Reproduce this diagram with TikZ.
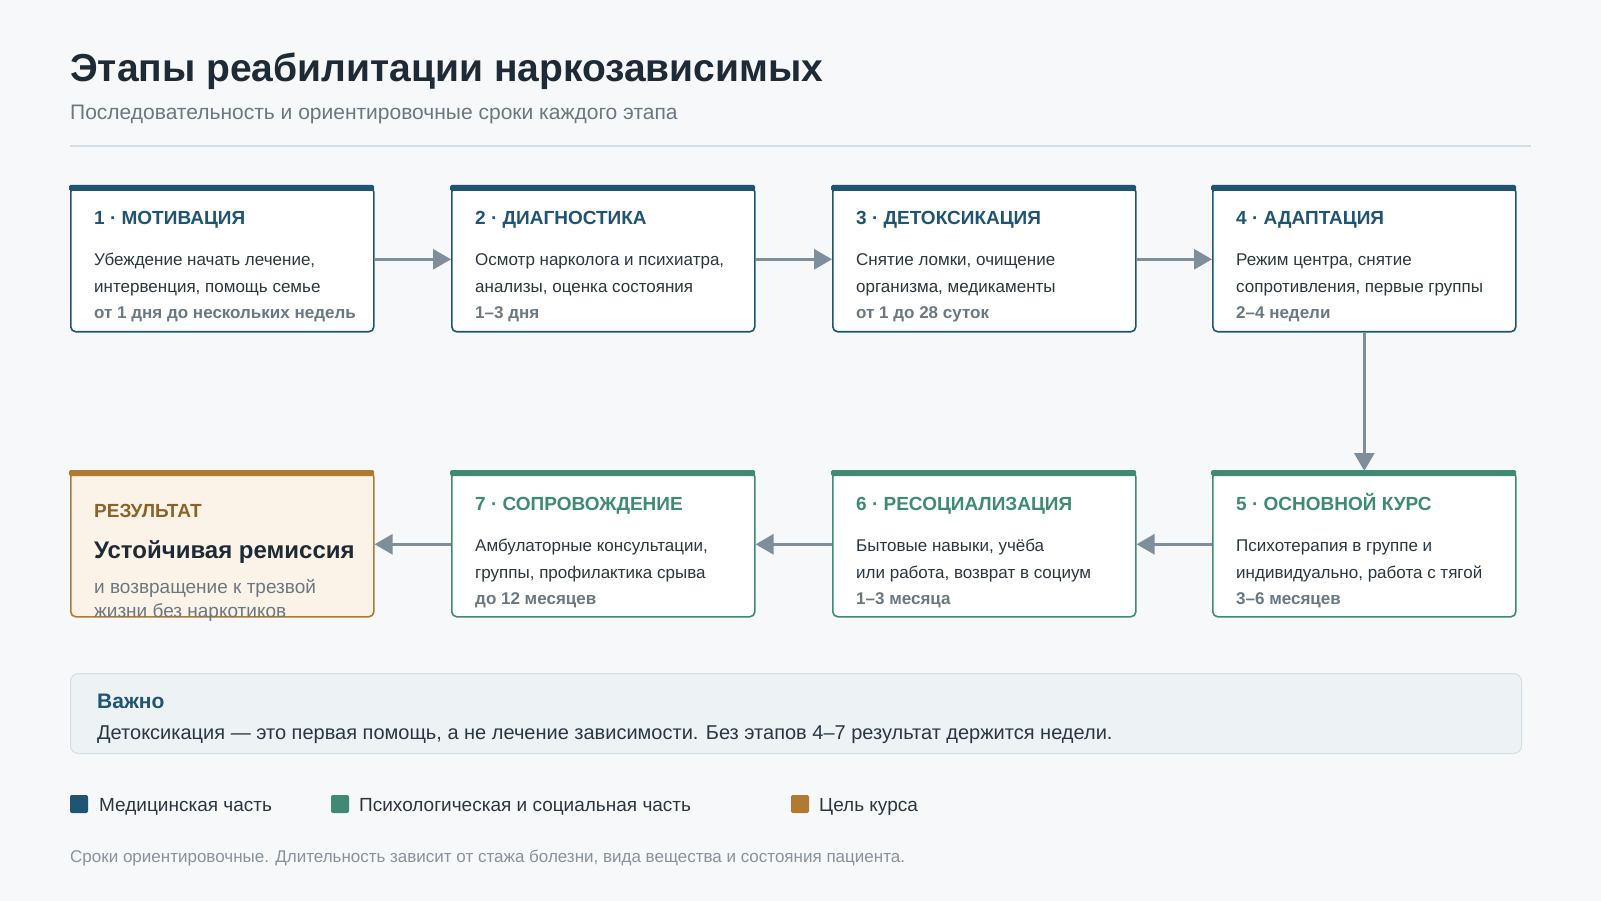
\documentclass[tikz,border=0pt]{standalone}
\usepackage{fontspec}
\setmainfont{Liberation Sans}
\usetikzlibrary{arrows.meta}
\definecolor{bg}{HTML}{F6F8FA}
\definecolor{navy}{HTML}{1F5472}
\definecolor{grn}{HTML}{3F8A74}
\definecolor{gold}{HTML}{B07A32}
\definecolor{cream}{HTML}{FBF3E7}
\definecolor{ink}{HTML}{1E2A35}
\definecolor{txt}{HTML}{2B3640}
\definecolor{gry}{HTML}{6B7781}
\definecolor{arr}{HTML}{7E8F9B}
\definecolor{note}{HTML}{EDF2F5}
\definecolor{noteb}{HTML}{D3DEE5}
\begin{document}
\begin{tikzpicture}[x=1pt,y=-1pt,
  box/.style={draw=#1,line width=1.6pt,rounded corners=5pt,fill=white,minimum width=303pt,minimum height=145pt,inner sep=0pt,anchor=north west},
  bar/.style={fill=#1,rounded corners=1.5pt},
  hd/.style={anchor=base west,inner sep=0pt,font=\fontsize{19}{19}\selectfont\bfseries,text=#1},
  bd/.style={anchor=base west,inner sep=0pt,font=\fontsize{17}{17}\selectfont,text=txt},
  du/.style={anchor=base west,inner sep=0pt,font=\fontsize{17}{17}\selectfont\bfseries,text=gry},
  ar/.style={draw=arr,line width=3pt,-{Triangle[length=18pt,width=20pt]}}]
\useasboundingbox[fill=bg] (0,0) rectangle (1601,901);
\node[anchor=base west,inner sep=0pt,font=\fontsize{39}{39}\selectfont\bfseries,text=ink] (t) at (70,82) {Этапы реабилитации наркозависимых};
\node[anchor=base west,inner sep=0pt,font=\fontsize{21}{21}\selectfont,text=gry] (st) at (70,120) {Последовательность и ориентировочные сроки каждого этапа};
\draw[draw=noteb,line width=1.5pt] (70,146) -- (1531,146);
% generic box command
\newcommand\stage[9]{% name x y color head l1 l2 dur fill
  \node[box=#4,fill=#9] (#1) at (#2,#3) {};
  \fill[#4,rounded corners=1.5pt] (#2-1,#3-1) rectangle (#2+304,#3+5);
  \node[hd=#4] (#1h) at (#2+24,#3+39) {#5};
  \node[bd] (#1a) at (#2+24,#3+80) {#6};
  \node[bd] (#1b) at (#2+24,#3+107) {#7};
  \node[du] (#1c) at (#2+24,#3+133) {#8};}
\stage{b1}{70}{186}{navy}{1 · МОТИВАЦИЯ}{Убеждение начать лечение,}{интервенция, помощь семье}{от 1 дня до нескольких недель}{white}
\stage{b2}{451}{186}{navy}{2 · ДИАГНОСТИКА}{Осмотр нарколога и психиатра,}{анализы, оценка состояния}{1–3 дня}{white}
\stage{b3}{832}{186}{navy}{3 · ДЕТОКСИКАЦИЯ}{Снятие ломки, очищение}{организма, медикаменты}{от 1 до 28 суток}{white}
\stage{b4}{1212}{186}{navy}{4 · АДАПТАЦИЯ}{Режим центра, снятие}{сопротивления, первые группы}{2–4 недели}{white}
\stage{b5}{1212}{471}{grn}{5 · ОСНОВНОЙ КУРС}{Психотерапия в группе и}{индивидуально, работа с тягой}{3–6 месяцев}{white}
\stage{b6}{832}{471}{grn}{6 · РЕСОЦИАЛИЗАЦИЯ}{Бытовые навыки, учёба}{или работа, возврат в социум}{1–3 месяца}{white}
\stage{b7}{451}{471}{grn}{7 · СОПРОВОЖДЕНИЕ}{Амбулаторные консультации,}{группы, профилактика срыва}{до 12 месяцев}{white}
\node[box=gold,fill=cream] (r) at (70,471) {};
\fill[gold,rounded corners=1.5pt] (69,470) rectangle (374,476);
\node[hd=gold!80!black] (rh) at (94,517) {РЕЗУЛЬТАТ};
\node[anchor=base west,inner sep=0pt,font=\fontsize{24}{24}\selectfont\bfseries,text=ink] (rt) at (94,558) {Устойчивая ремиссия};
\node[anchor=base west,inner sep=0pt,font=\fontsize{19}{19}\selectfont,text=gry] (r1) at (94,593) {и возвращение к трезвой};
\node[anchor=base west,inner sep=0pt,font=\fontsize{19}{19}\selectfont,text=gry] (r2) at (94,617) {жизни без наркотиков};
\draw[ar] (b1.east) -- (b2.west);
\draw[ar] (b2.east) -- (b3.west);
\draw[ar] (b3.east) -- (b4.west);
\draw[ar] (b4.south) -- (b5.north);
\draw[ar] (b5.west) -- (b6.east);
\draw[ar] (b6.west) -- (b7.east);
\draw[ar] (b7.west) -- (r.east);
\node[draw=noteb,fill=note,line width=1pt,rounded corners=8pt,minimum width=1451pt,minimum height=80pt,anchor=north west,inner sep=0pt] (n) at (70,673) {};
\node[anchor=base west,inner sep=0pt,font=\fontsize{21}{21}\selectfont\bfseries,text=navy] (nh) at (97,708) {Важно};
\node[anchor=base west,inner sep=0pt,font=\fontsize{20}{20}\selectfont,text=txt] (nt) at (97,739) {Детоксикация — это первая помощь, а не лечение зависимости. Без этапов 4–7 результат держится недели.};
\fill[navy,rounded corners=2pt] (70,795) rectangle (88,813);
\node[anchor=base west,inner sep=0pt,font=\fontsize{19}{19}\selectfont,text=txt] (l1) at (99,811) {Медицинская часть};
\fill[grn,rounded corners=2pt] (331,795) rectangle (349,813);
\node[anchor=base west,inner sep=0pt,font=\fontsize{19}{19}\selectfont,text=txt] (l2) at (359,811) {Психологическая и социальная часть};
\fill[gold,rounded corners=2pt] (791,795) rectangle (809,813);
\node[anchor=base west,inner sep=0pt,font=\fontsize{19}{19}\selectfont,text=txt] (l3) at (819,811) {Цель курса};
\node[anchor=base west,inner sep=0pt,font=\fontsize{17}{17}\selectfont,text=gry!80] (f) at (70,862) {Сроки ориентировочные. Длительность зависит от стажа болезни, вида вещества и состояния пациента.};
\end{tikzpicture}
\end{document}
